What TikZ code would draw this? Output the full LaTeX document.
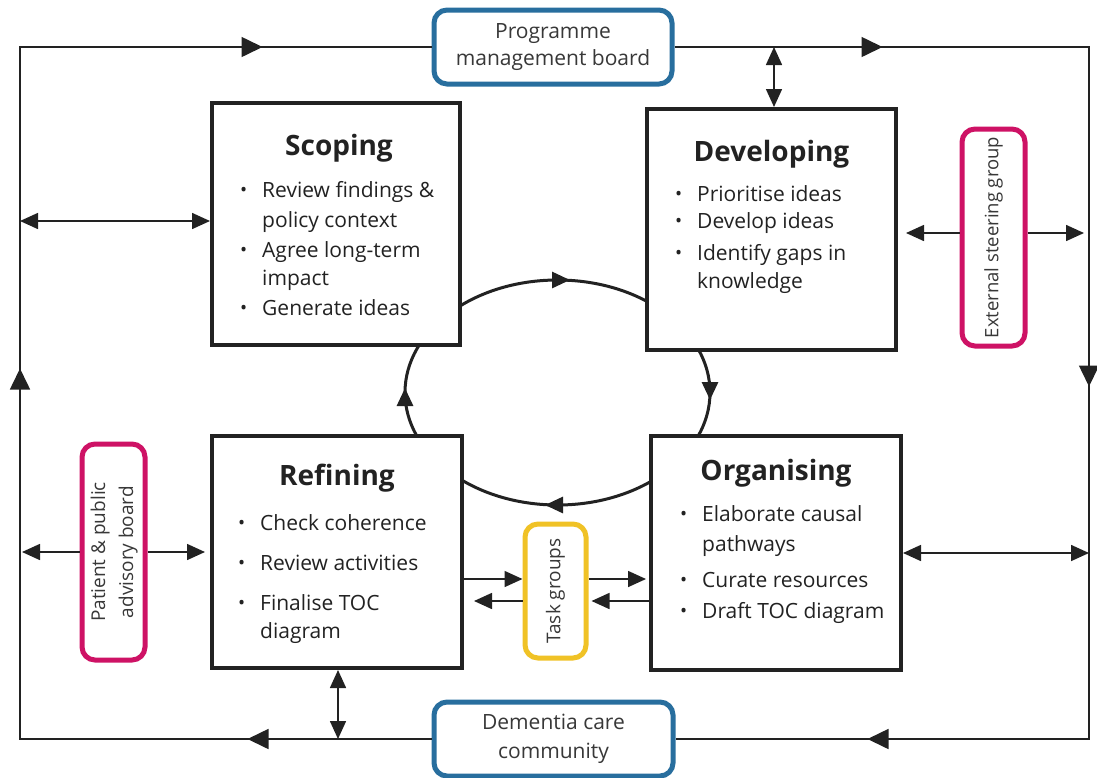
\documentclass[tikz,border=0pt]{standalone}
\usepackage{fontspec}
\setmainfont{Open Sans}
\usepackage{graphicx}
\usetikzlibrary{arrows.meta,decorations.markings,calc}
\definecolor{pmbblue}{RGB}{40,110,158}
\definecolor{grppink}{RGB}{206,18,101}
\definecolor{grpyellow}{RGB}{240,194,38}
\definecolor{inkgrey}{RGB}{34,34,34}
\newcommand\mybul{\raisebox{0.03em}{\scalebox{0.9}{\textbullet}}}
\newcommand\myitem[4]{\node[itm] (#1) at (#2,#3) {\llap{\mybul\hspace{15pt}}#4};}
\newcommand\mycont[4]{\node[itm] (#1) at (#2,#3) {#4};}
\begin{document}
\begin{tikzpicture}[x=1pt,y=-1pt,
  >={Triangle[length=18pt,width=16pt]},
  stage/.style={draw=inkgrey, line width=4pt, fill=white, inner sep=0pt},
  ttl/.style={font=\fontsize{28}{32}\selectfont\bfseries, text=inkgrey, anchor=base, inner sep=0pt},
  itm/.style={font=\fontsize{21}{25}\selectfont, text=inkgrey, anchor=base west, inner sep=0pt},
  grp/.style={rounded corners=13pt, line width=5pt, fill=white, inner sep=0pt, align=center, text=inkgrey!90},
  conn/.style={line width=1.6pt, draw=inkgrey},
  loopA/.style={postaction={decorate}, decoration={markings,
     mark=at position 184pt with {\arrow{Triangle[length=21pt,width=20pt]}},
     mark=at position 782pt with {\arrow{Triangle[length=21pt,width=20pt]}},
     mark=at position 1346pt with {\arrow{Triangle[length=21pt,width=20pt]}}}},
  loopB/.style={postaction={decorate}, decoration={markings,
     mark=at position 208pt with {\arrow{Triangle[length=21pt,width=20pt]}},
     mark=at position 754pt with {\arrow{Triangle[length=21pt,width=20pt]}},
     mark=at position 1328pt with {\arrow{Triangle[length=21pt,width=20pt]}}}}
]
\useasboundingbox (0,0) rectangle (1097,777);

% corner coordinates of the outer loop
\coordinate (tl) at (20,47);
\coordinate (tr) at (1089,47);
\coordinate (br) at (1089,739);
\coordinate (bl) at (20,739);

% boards
\node[grp, draw=pmbblue, minimum width=238pt, minimum height=74pt, font=\fontsize{21}{27}\selectfont] (pmb) at (553,47) {Programme\\management board};
\node[grp, draw=pmbblue, minimum width=239pt, minimum height=74pt, font=\fontsize{21}{29}\selectfont] (dcc) at (553.5,739) {Dementia care\\community};

% outer loop
\draw[conn, loopA] (dcc.west) -- (bl) -- (tl) -- (pmb.west);
\draw[conn, loopB] (pmb.east) -- (tr) -- (br) -- (dcc.east);

% central cycle
\draw[line width=3pt, draw=inkgrey] (557.5,392.5) ellipse [x radius=152.5, y radius=112.5];
\coordinate (cyT) at (570,280);
\coordinate (cyR) at (710,400);
\coordinate (cyB) at (545,505);
\coordinate (cyL) at (405,388);
\draw[line width=3pt, draw=inkgrey, -{Triangle[length=18pt,width=16pt]}] ([xshift=-18pt]cyT) -- (cyT);
\draw[line width=3pt, draw=inkgrey, -{Triangle[length=18pt,width=16pt]}] ([yshift=18pt]cyR) -- (cyR);
\draw[line width=3pt, draw=inkgrey, -{Triangle[length=18pt,width=16pt]}] ([xshift=18pt]cyB) -- (cyB);
\draw[line width=3pt, draw=inkgrey, -{Triangle[length=18pt,width=16pt]}] ([yshift=-18pt]cyL) -- (cyL);

% stage boxes
\node[stage, minimum width=248pt, minimum height=242pt] (sc) at (336,224) {};
\node[stage, minimum width=249pt, minimum height=241pt] (dev) at (771.5,229.5) {};
\node[stage, minimum width=250pt, minimum height=232pt] (ref) at (337,552) {};
\node[stage, minimum width=250pt, minimum height=234pt] (org) at (776,553) {};

% Scoping
\node[ttl] (scT) at (339,155) {Scoping};
\myitem{sc1}{262}{197}{Review findings \&}
\mycont{sc1b}{262}{227}{policy context}
\myitem{sc2}{262}{257}{Agree long-term}
\mycont{sc2b}{262}{285}{impact}
\myitem{sc3}{262}{315}{Generate ideas}

% Developing
\node[ttl] (devT) at (771.5,161) {Developing};
\myitem{dv1}{697}{201}{Prioritise ideas}
\myitem{dv2}{697}{228}{Develop ideas}
\myitem{dv3}{697}{260}{Identify gaps in}
\mycont{dv3b}{697}{288}{knowledge}

% Refining
\node[ttl] (refT) at (337,485) {Refining};
\myitem{rf1}{260}{530}{Check coherence}
\myitem{rf2}{260}{570}{Review activities}
\myitem{rf3}{260}{610}{Finalise TOC}
\mycont{rf3b}{260}{638}{diagram}

% Organising
\node[ttl] (orgT) at (776,480) {Organising};
\myitem{og1}{702}{521}{Elaborate causal}
\mycont{og1b}{702}{551}{pathways}
\myitem{og2}{702}{587}{Curate resources}
\myitem{og3}{702}{618}{Draft TOC diagram}

% side groups
\node[grp, draw=grppink, minimum width=63pt, minimum height=217pt, font=\fontsize{18.5}{22}\selectfont] (esg) at (993.5,237.5) {\rotatebox{90}{External steering group}};
\node[grp, draw=grppink, minimum width=63pt, minimum height=216pt, font=\fontsize{19}{28}\selectfont] (ppab) at (113.5,552) {\rotatebox{90}{\begin{tabular}{@{}c@{}}Patient \& public\\advisory board\end{tabular}}};
\node[grp, draw=grpyellow, minimum width=61pt, minimum height=134pt, font=\fontsize{19}{22}\selectfont] (tg) at (555.5,591) {\rotatebox{90}{Task groups}};

% connectors
\coordinate (pd) at (774,47);
\draw[conn, <->] (pd) -- (dev.north -| pd);
\coordinate (rd) at (338,739);
\draw[conn, <->] (ref.south -| rd) -- (rd);
\coordinate (ls) at (20,221);
\draw[conn, <->] (ls) -- (sc.west |- ls);
\coordinate (ea) at (993.5,233);
\coordinate (er) at (1089,233);
\draw[conn, ->, shorten >=8pt] (esg.west |- ea) -- (dev.east |- ea);
\draw[conn, ->, shorten >=5pt] (esg.east |- ea) -- (er);
\coordinate (orr) at (1089,553);
\draw[conn, <->] (org.east) -- (orr);
\coordinate (pl) at (20,552);
\draw[conn, ->, shorten >=2pt] (ppab.west) -- (pl);
\draw[conn, ->, shorten >=5pt] (ppab.east) -- (ref.west |- ppab.east);
\coordinate (tga) at (555.5,579);
\coordinate (tgb) at (555.5,601);
\draw[conn, ->] (ref.east |- tga) -- (tg.west |- tga);
\draw[conn, ->, shorten >=10pt] (tg.west |- tgb) -- (ref.east |- tgb);
\draw[conn, ->, shorten >=3pt] (tg.east |- tga) -- (org.west |- tga);
\draw[conn, ->, shorten >=3pt] (org.west |- tgb) -- (tg.east |- tgb);
\end{tikzpicture}
\end{document}
